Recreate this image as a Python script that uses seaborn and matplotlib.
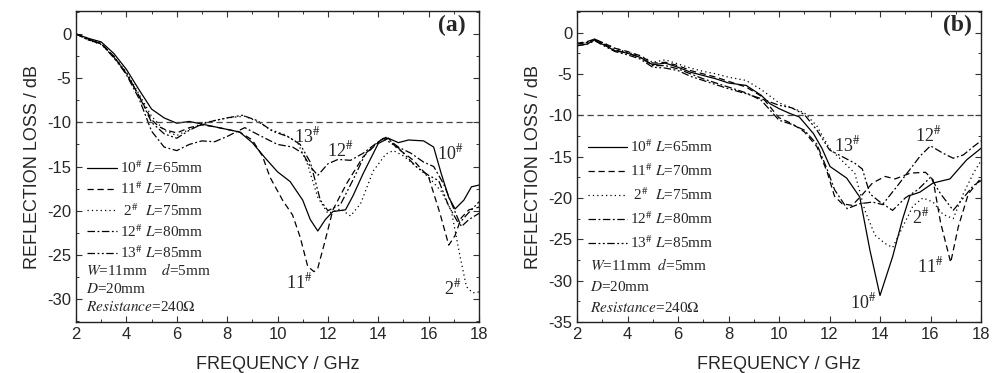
import matplotlib
matplotlib.use("Agg")
import matplotlib.pyplot as plt
import seaborn as sns
from matplotlib.ticker import MultipleLocator

# ---------- data, panel (a) ----------
a10_f = [2, 2.5, 3, 3.5, 4, 4.5, 5, 5.5, 6, 6.5, 7, 7.5, 8, 8.5, 9, 9.5, 10, 10.5, 11, 11.3, 11.6, 11.9,
         12.2, 12.7, 13.0, 13.4, 14.0, 14.4, 14.8, 15.2, 15.8, 16.2, 16.5, 16.8, 17.05, 17.4, 17.7, 18]
a10_rl = [0, -0.5, -0.9, -2.2, -4.0, -6.3, -8.5, -9.5, -10.1, -9.9, -10.2, -10.5, -10.8, -11.1, -12.3, -14.0,
          -15.6, -16.7, -18.8, -21.0, -22.3, -21.0, -20.1, -19.9, -18.3, -15.8, -12.4, -11.8, -12.3, -12.0,
          -12.1, -12.8, -15.8, -18.5, -19.8, -18.8, -17.3, -17.1]

a11_f = [2, 2.5, 3, 3.5, 4, 4.5, 5, 5.3, 5.6, 6, 6.5, 7, 7.5, 8, 8.5, 9, 9.4, 9.7, 10.2, 10.6, 10.9, 11.2,
         11.45, 11.6, 11.9, 12.2, 12.75, 13.4, 14.1, 14.4, 14.7, 15.4, 16.0, 16.45, 16.8, 17.05, 17.3, 17.6, 18]
a11_rl = [0, -0.6, -1.1, -2.5, -4.5, -7.0, -9.7, -10.5, -10.9, -11.2, -10.6, -10.3, -10.5, -10.8, -11.1,
          -12.0, -13.8, -16.2, -18.8, -20.5, -23.0, -26.3, -26.9, -26.5, -23.3, -19.9, -16.9, -13.9, -12.0,
          -11.8, -12.8, -14.3, -16.2, -20.3, -23.9, -22.8, -20.8, -19.9, -19.6]

a2_f = [2, 2.5, 3, 3.5, 4, 4.5, 5, 5.5, 6, 6.5, 7, 7.5, 8, 8.7, 9.2, 9.7, 10.3, 10.8, 11.2, 11.6, 12.0,
        12.5, 12.9, 13.3, 13.8, 14.3, 14.6, 15.0, 15.5, 16.0, 16.5, 16.9, 17.25, 17.5, 17.75, 18]
a2_rl = [0, -0.7, -1.2, -2.5, -4.3, -6.8, -9.3, -10.9, -11.5, -10.8, -10.1, -9.8, -9.5, -9.3, -9.9, -10.8,
         -11.4, -12.3, -14.8, -18.5, -20.3, -19.8, -20.6, -19.2, -15.5, -13.6, -13.2, -13.8, -15.0, -16.2,
         -17.8, -20.0, -25.2, -28.6, -29.3, -29.2]

a12_f = [2, 2.5, 3, 3.5, 4, 4.5, 5, 5.5, 6, 6.5, 7, 7.5, 8, 8.7, 9.3, 10, 10.6, 11.0, 11.3, 11.6, 12.0,
         12.4, 12.9, 13.4, 14.0, 14.3, 14.8, 15.3, 15.8, 16.2, 16.6, 17.0, 17.3, 17.6, 18]
a12_rl = [0, -0.6, -1.1, -2.6, -4.6, -7.3, -11.0, -12.8, -13.2, -12.5, -12.1, -12.2, -11.6, -10.6, -11.5,
          -12.5, -12.8, -13.5, -15.0, -16.0, -14.7, -14.2, -14.3, -13.5, -12.2, -11.7, -12.8, -13.5, -14.5,
          -15.0, -17.0, -19.8, -21.8, -21.0, -20.3]

a13_f = [2, 2.5, 3, 3.5, 4, 4.5, 5, 5.5, 6, 6.5, 7, 7.5, 8, 8.6, 9.2, 9.8, 10.4, 10.9, 11.3, 11.7, 12.0,
         12.5, 13.0, 13.5, 14.2, 14.8, 15.5, 16.0, 16.4, 16.8, 17.2, 17.5, 18]
a13_rl = [0, -0.7, -1.1, -2.7, -4.4, -7.0, -10.0, -11.3, -11.8, -10.9, -10.2, -9.8, -9.5, -9.2, -9.8, -11.0,
          -11.6, -12.5, -14.5, -18.8, -20.0, -19.3, -16.5, -13.5, -11.8, -12.9, -15.0, -16.0, -16.6, -19.5,
          -21.5, -20.5, -19.0]

# ---------- data, panel (b) ----------
b10_f = [2, 2.4, 2.7, 3.0, 3.5, 4.0, 4.5, 5.0, 5.5, 6.0, 6.5, 7.0, 7.5, 8.0, 8.7, 9.3, 9.64, 10.0, 10.44,
         10.8, 11.36, 11.7, 12.02, 12.68, 13.2, 13.6, 14.0, 14.5, 14.9, 15.19, 15.58, 16.1, 16.77, 17.43, 18]
b10_rl = [-1.6, -1.4, -0.9, -1.4, -2.2, -2.5, -3.0, -3.9, -3.7, -4.2, -4.8, -5.2, -5.6, -6.1, -6.4, -7.6,
          -8.6, -9.2, -9.8, -10.2, -12.2, -14.0, -16.2, -17.6, -19.9, -26.3, -31.8, -27.1, -22.5, -19.7,
          -19.3, -18.2, -17.7, -15.4, -14.0]

b11_f = [2, 2.4, 2.7, 3.0, 3.5, 4.0, 4.5, 5.0, 5.5, 6.0, 6.5, 7.0, 7.5, 8.0, 8.7, 9.3, 10.0, 10.5, 11.0,
         11.5, 11.9, 12.2, 12.5, 12.9, 13.3, 13.7, 14.2, 14.6, 15.2, 15.8, 16.1, 16.4, 16.8, 17.1, 17.5, 18]
b11_rl = [-1.3, -1.1, -0.8, -1.2, -1.9, -2.3, -2.8, -3.7, -3.6, -4.0, -4.6, -5.0, -5.4, -5.9, -6.6, -7.7,
          -10.3, -11.0, -12.0, -13.8, -16.8, -19.8, -20.7, -20.9, -19.6, -18.2, -17.4, -17.7, -17.0, -16.9,
          -17.8, -23.0, -27.8, -23.5, -19.5, -17.6]

b2_f = [2, 2.4, 2.7, 3.0, 3.5, 4.0, 4.5, 5.0, 5.5, 6.0, 6.5, 7.0, 7.5, 8.0, 8.7, 9.3, 10.0, 10.5, 11.0,
        11.5, 12.0, 12.5, 13.0, 13.4, 13.8, 14.2, 14.5, 14.9, 15.3, 15.7, 16.1, 16.5, 16.9, 17.3, 17.7, 18]
b2_rl = [-1.3, -1.2, -0.8, -1.2, -1.9, -2.4, -2.8, -3.6, -3.3, -3.8, -4.3, -4.7, -5.0, -5.4, -5.8, -6.9,
         -8.5, -9.1, -9.7, -11.3, -14.0, -15.5, -17.0, -21.5, -24.5, -25.5, -26.0, -23.5, -21.0, -20.0,
         -20.5, -22.0, -22.5, -19.5, -17.0, -15.5]

b12_f = [2, 2.4, 2.7, 3.0, 3.5, 4.0, 4.5, 5.0, 5.5, 6.0, 6.5, 7.0, 7.5, 8.0, 8.7, 9.3, 10.0, 10.5, 11.0,
         11.5, 11.9, 12.2, 12.7, 13.2, 13.7, 14.1, 14.7, 15.2, 15.6, 16.0, 16.5, 16.9, 17.3, 17.7, 18]
b12_rl = [-1.4, -1.2, -0.8, -1.3, -2.1, -2.5, -3.0, -4.0, -4.0, -4.4, -5.0, -5.6, -6.1, -6.6, -7.3, -8.2,
          -10.6, -11.1, -11.8, -13.5, -16.5, -19.0, -21.3, -20.7, -20.5, -20.8, -18.5, -16.5, -14.9, -13.7,
          -14.6, -15.2, -14.8, -13.8, -13.1]

b13_f = [2, 2.4, 2.7, 3.0, 3.5, 4.0, 4.5, 5.0, 5.5, 6.0, 6.5, 7.0, 7.5, 8.0, 8.7, 9.3, 10.0, 10.5, 11.0,
         11.5, 12.0, 12.5, 13.0, 13.3, 13.6, 14.0, 14.5, 15.0, 15.5, 16.0, 16.4, 16.9, 17.3, 17.7, 18]
b13_rl = [-1.6, -1.4, -1.0, -1.5, -2.3, -2.7, -3.2, -4.2, -4.3, -4.6, -5.3, -5.8, -6.3, -6.8, -7.4, -8.0,
          -8.8, -9.1, -9.9, -11.8, -14.2, -15.0, -15.8, -16.5, -19.5, -20.5, -21.5, -20.0, -19.0, -17.5,
          -19.5, -21.5, -20.0, -18.5, -17.9]

labels = [r"10$^{\#}$ $L$=65mm", r"11$^{\#}$ $L$=70mm", r" 2$^{\#}$  $L$=75mm",
          r"12$^{\#}$ $L$=80mm", r"13$^{\#}$ $L$=85mm"]
styles = ["-", (0, (5, 3)), (0, (1, 2.5)), (0, (6, 2, 1.5, 2)), (0, (6, 2, 1.5, 2, 1.5, 2))]

sns.set_style("ticks")
plt.rcParams["font.family"] = ["Liberation Sans", "DejaVu Sans"]
plt.rcParams["mathtext.fontset"] = "stix"
plt.rcParams["axes.unicode_minus"] = False
SERIF = ["Liberation Serif", "DejaVu Serif"]

fig = plt.figure(figsize=(10, 3.73), dpi=100)
ax_a = fig.add_axes([0.076, 0.1367, 0.403, 0.8338])
ax_b = fig.add_axes([0.577, 0.1367, 0.404, 0.8338])

panels = [
    (ax_a, [(a10_f, a10_rl), (a11_f, a11_rl), (a2_f, a2_rl), (a12_f, a12_rl), (a13_f, a13_rl)],
     (-32.6, 2.6), "(a)", 0.933, 0.30, 2.0, (0.027, 0.522),
     [(0.025, 0.167), (0.025, 0.106), (0.025, 0.048)], r"$W$=11mm    $d$=5mm",
     [("13", 11.2, -11.6), ("12", 12.5, -13.2), ("10", 16.85, -13.5), ("11", 10.85, -28.1), ("2", 16.95, -28.8)]),
    (ax_b, [(b10_f, b10_rl), (b11_f, b11_rl), (b2_f, b2_rl), (b12_f, b12_rl), (b13_f, b13_rl)],
     (-35, 2.6), "(b)", 0.941, 0.49, 2.55, (0.027, 0.590),
     [(0.032, 0.183), (0.032, 0.113), (0.032, 0.045)], r"$W$=11mm  $d$=5mm",
     [("13", 12.7, -13.6), ("12", 15.9, -12.4), ("2", 15.6, -22.3), ("11", 15.98, -28.3), ("10", 13.34, -32.6)]),
]

for ax, series, ylim, tag, tagx, lspace, hlen, anchor, textpos, wtext, notes in panels:
    for (f, rl), lab, ls in zip(series, labels, styles):
        sns.lineplot(x=f, y=rl, ax=ax, color="black", lw=0.9, linestyle=ls, label=lab)
    ax.axhline(-10, color="#444444", lw=0.9, linestyle=(0, (5, 3)))

    ax.set_xlim(2, 18)
    ax.set_ylim(*ylim)
    ax.xaxis.set_major_locator(MultipleLocator(2))
    ax.xaxis.set_minor_locator(MultipleLocator(1))
    ax.yaxis.set_major_locator(MultipleLocator(5))
    ax.yaxis.set_minor_locator(MultipleLocator(2.5))
    ax.tick_params(which="both", direction="in", top=True, right=True, labelsize=12, color="#333333")
    ax.tick_params(which="major", length=4, width=0.8)
    ax.tick_params(which="minor", length=2.5, width=0.7)
    for sp in ax.spines.values():
        sp.set_linewidth(1.0)
        sp.set_color("#222222")

    ax.set_xlabel("FREQUENCY / GHz", fontsize=13, labelpad=10)
    ax.set_ylabel("REFLECTION LOSS / dB", fontsize=13, labelpad=4)

    ax.legend(loc="upper left", bbox_to_anchor=anchor, frameon=False, borderaxespad=0, borderpad=0,
              handlelength=hlen, handletextpad=0.2, labelspacing=lspace,
              prop={"family": SERIF, "size": 11})

    ax.text(textpos[0][0], textpos[0][1], wtext, transform=ax.transAxes, family=SERIF, fontsize=11, va="center")
    ax.text(textpos[1][0], textpos[1][1], r"$D$=20mm", transform=ax.transAxes, family=SERIF, fontsize=11, va="center")
    ax.text(textpos[2][0], textpos[2][1], r"$Resistance$=240$\Omega$", transform=ax.transAxes,
            family=SERIF, fontsize=11, va="center")

    for num, fx, fy in notes:
        ax.text(fx, fy, num + r"$^{\#}$", family=SERIF, fontsize=13, ha="center", va="center")

    ax.text(tagx, 0.955, tag, transform=ax.transAxes, family=SERIF, fontsize=17, fontweight="bold",
            ha="center", va="center")

fig.savefig("out.png", dpi=100)
